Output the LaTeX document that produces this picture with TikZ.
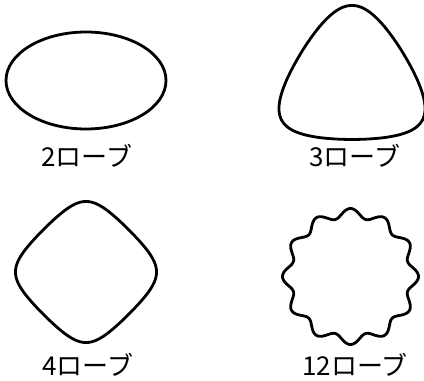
\documentclass[tikz,border=0pt]{standalone}
\usepackage{fontspec}
\newfontfamily\jpfont{Noto Sans CJK JP}
\begin{document}
\begin{tikzpicture}[x=1pt,y=-1pt,
  lobe/.style={draw=black,line width=2.8pt,line join=round},
  lbl/.style={font=\jpfont\fontsize{26}{30}\selectfont,anchor=base,inner sep=0pt}]
\useasboundingbox (0,0) rectangle (424,381);
% 2 lobes
\draw[lobe] (86,80.5) ellipse [x radius=80, y radius=48.5];
% 3 lobes
\draw[lobe] plot[domain=0:360,samples=361,variable=\t]
  ({352-1.047*67*(sin(\t)-0.15*sin(2*\t))},{82.5-67*(cos(\t)+0.15*cos(2*\t))}) -- cycle;
% 4 lobes
\draw[lobe] plot[domain=0:360,samples=361,variable=\t]
  ({86+65.3*(cos(\t)+0.08*cos(3*\t))},{272-65.3*(sin(\t)-0.08*sin(3*\t))}) -- cycle;
% 12 lobes
\draw[lobe] plot[domain=0:360,samples=721,variable=\t]
  ({350.5+(63.5+4.5*cos(12*\t))*cos(\t)},{276.5-(63.5+4.5*cos(12*\t))*sin(\t)}) -- cycle;
\node[lbl] (l2) at (87,166) {2ローブ};
\node[lbl] (l3) at (355,166.5) {3ローブ};
\node[lbl] (l4) at (88,375) {4ローブ};
\node[lbl] (l12) at (355,375) {12ローブ};
\end{tikzpicture}
\end{document}
